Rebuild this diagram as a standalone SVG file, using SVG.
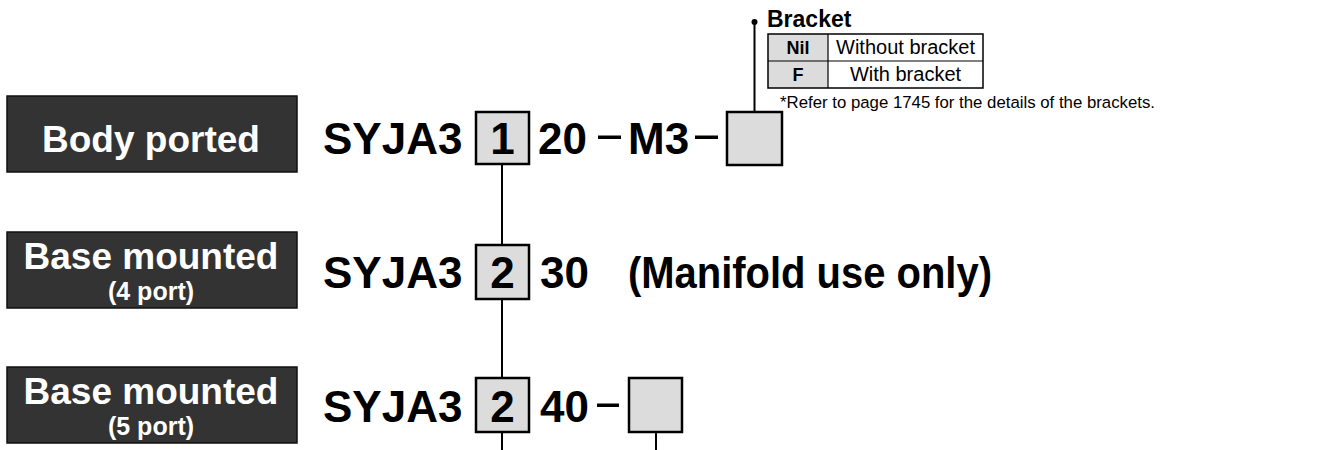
<svg xmlns="http://www.w3.org/2000/svg" width="1327" height="450" viewBox="0 0 1327 450">
<style>
.lbl{fill:#333;stroke:#111;stroke-width:1.5}
.lt{font-family:"Liberation Sans",Arial,sans-serif;font-weight:bold;fill:#fff;text-anchor:middle}
.big{font-size:37px}
.small{font-size:25px}
.code{font-family:"Liberation Sans",Arial,sans-serif;font-weight:bold;font-size:44px;fill:#000}
.box{fill:#dcdcdc;stroke:#000;stroke-width:2.5}
.ln{stroke:#000;stroke-width:2;fill:none}
.tb{font-family:"Liberation Sans",Arial,sans-serif;font-size:20px;fill:#000}
.tk{font-family:"Liberation Sans",Arial,sans-serif;font-size:18px;font-weight:bold;fill:#000;text-anchor:middle}
.note{font-family:"Liberation Sans",Arial,sans-serif;font-size:16.8px;fill:#000}
</style>
<rect width="1327" height="450" fill="#fff"/>
<g id="connectors">
<line class="ln" x1="502" y1="164" x2="502" y2="450"/>
<line class="ln" x1="754.5" y1="22" x2="754.5" y2="112"/>
<circle cx="754.5" cy="22" r="3" fill="#000"/>
<line class="ln" x1="656" y1="432" x2="656" y2="450"/>
</g>
<g id="label-body-ported">
<rect class="lbl" x="7" y="96" width="290" height="76"/>
<text class="lt big" x="151" y="152">Body ported</text>
</g>
<g id="label-base-4">
<rect class="lbl" x="7" y="232" width="290" height="76"/>
<text class="lt big" x="151" y="269">Base mounted</text>
<text class="lt small" x="151" y="300">(4 port)</text>
</g>
<g id="label-base-5">
<rect class="lbl" x="7" y="367" width="290" height="76"/>
<text class="lt big" x="151" y="404">Base mounted</text>
<text class="lt small" x="151" y="435">(5 port)</text>
</g>
<g id="row1">
<text class="code" x="323" y="154">SYJA3</text>
<rect class="box" x="476" y="112" width="53" height="52"/>
<text class="code" x="502.5" y="154" text-anchor="middle">1</text>
<text class="code" x="538" y="154">20</text>
<rect x="598" y="135.5" width="23" height="3.5" fill="#000"/>
<text class="code" x="628" y="154">M3</text>
<rect x="695" y="135.5" width="23" height="3.5" fill="#000"/>
<rect class="box" x="727" y="112" width="55" height="53"/>
</g>
<g id="row2">
<text class="code" x="323" y="288">SYJA3</text>
<rect class="box" x="476" y="245" width="53" height="54"/>
<text class="code" x="502.5" y="288" text-anchor="middle">2</text>
<text class="code" x="540" y="288">30</text>
<text class="code" x="628" y="288" textLength="364" lengthAdjust="spacingAndGlyphs">(Manifold use only)</text>
</g>
<g id="row3">
<text class="code" x="323" y="422">SYJA3</text>
<rect class="box" x="476" y="378" width="53" height="54"/>
<text class="code" x="502.5" y="422" text-anchor="middle">2</text>
<text class="code" x="540" y="422">40</text>
<rect x="597" y="403.5" width="22" height="3.5" fill="#000"/>
<rect class="box" x="629" y="378" width="53" height="54"/>
</g>
<g id="bracket-table">
<text x="767" y="27" font-family="Liberation Sans,Arial,sans-serif" font-weight="bold" font-size="23" fill="#000">Bracket</text>
<rect x="768" y="34" width="60" height="54" fill="#dcdcdc"/>
<rect x="768" y="34" width="215" height="54" fill="none" stroke="#000" stroke-width="1.5"/>
<line x1="768" y1="61" x2="983" y2="61" stroke="#000" stroke-width="1.2"/>
<line x1="828" y1="34" x2="828" y2="88" stroke="#000" stroke-width="1.2"/>
<text class="tk" x="798" y="54">Nil</text>
<text class="tb" x="905.5" y="54" text-anchor="middle">Without bracket</text>
<text class="tk" x="798" y="81">F</text>
<text class="tb" x="905.5" y="81" text-anchor="middle">With bracket</text>
<text class="note" x="780" y="108">*Refer to page 1745 for the details of the brackets.</text>
</g>
</svg>
